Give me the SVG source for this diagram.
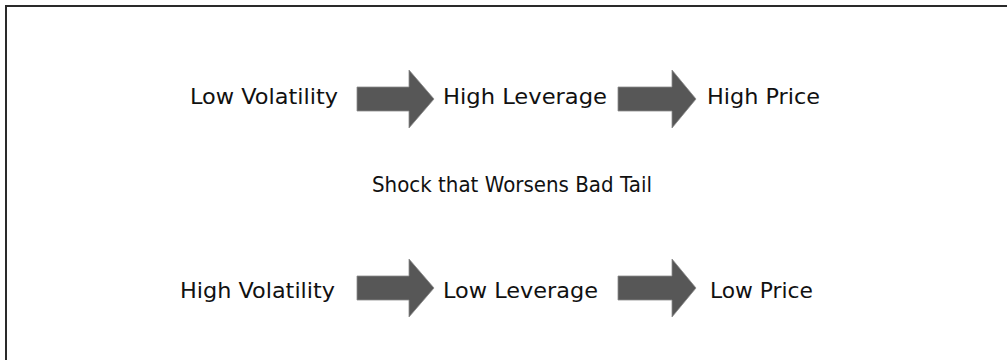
<svg xmlns="http://www.w3.org/2000/svg" width="1007" height="360" viewBox="0 0 1007 360">
<style>
.lbl{font-family:"DejaVu Sans","Liberation Sans",sans-serif;font-size:22px;fill:#111;}
.arr{fill:#575757;stroke:#8c8c8c;stroke-width:0.8;}
</style>
<rect width="1007" height="360" fill="#fff"/>
<rect x="6" y="6" width="1010" height="370" fill="none" stroke="#2a2a2a" stroke-width="2"/>
<g id="n-low-vol"><text class="lbl" x="190" y="104" textLength="148" lengthAdjust="spacingAndGlyphs">Low Volatility</text></g>
<g id="n-high-lev"><text class="lbl" x="443" y="104" textLength="164" lengthAdjust="spacingAndGlyphs">High Leverage</text></g>
<g id="n-high-price"><text class="lbl" x="707" y="104" textLength="113" lengthAdjust="spacingAndGlyphs">High Price</text></g>
<g id="n-shock"><text class="lbl" x="372" y="192" textLength="280" lengthAdjust="spacingAndGlyphs">Shock that Worsens Bad Tail</text></g>
<g id="n-high-vol"><text class="lbl" x="180" y="298" textLength="155" lengthAdjust="spacingAndGlyphs">High Volatility</text></g>
<g id="n-low-lev"><text class="lbl" x="443" y="298" textLength="155" lengthAdjust="spacingAndGlyphs">Low Leverage</text></g>
<g id="n-low-price"><text class="lbl" x="710" y="298" textLength="103" lengthAdjust="spacingAndGlyphs">Low Price</text></g>
<g id="connectors">
<path class="arr" d="M357,87 H409 V70 L434,99 L409,128 V111 H357 Z"/>
<path class="arr" d="M618,87 H672 V70 L696,99 L672,128 V111 H618 Z"/>
<path class="arr" d="M357,276 H409 V259 L434,288 L409,317 V300 H357 Z"/>
<path class="arr" d="M618,276 H672 V259 L696,288 L672,317 V300 H618 Z"/>
</g>
</svg>
